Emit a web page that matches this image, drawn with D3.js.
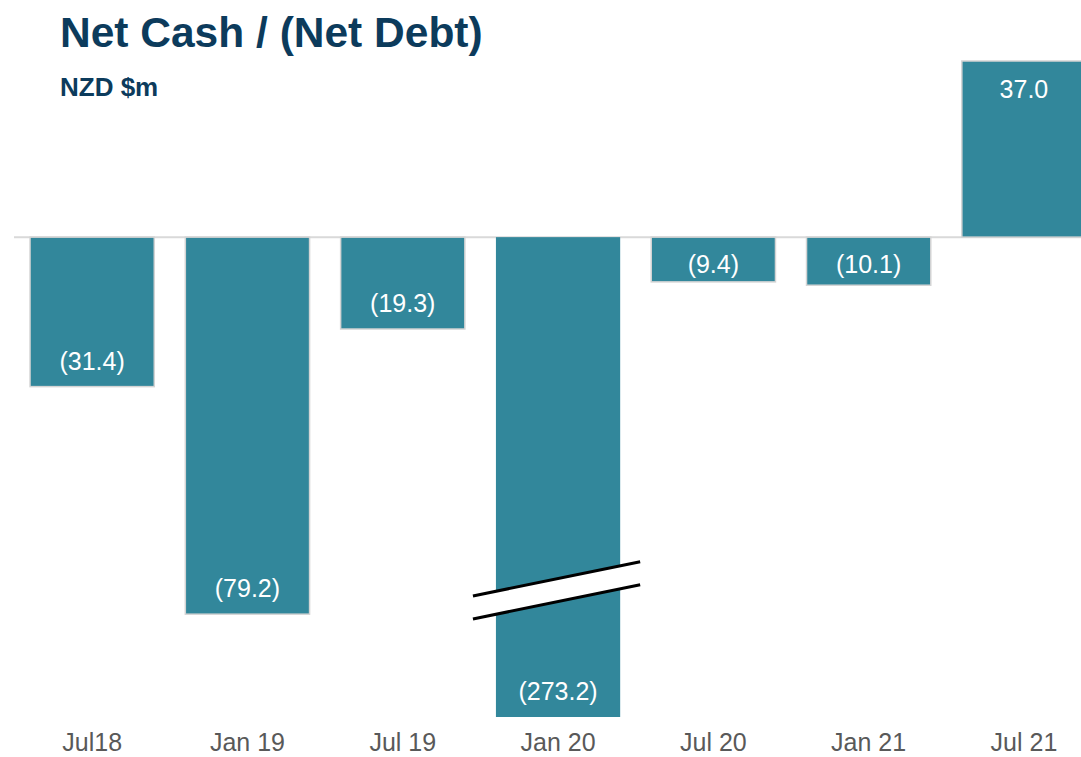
<!DOCTYPE html>
<html>
<head>
<meta charset="utf-8">
<script src="https://cdn.jsdelivr.net/npm/d3@7"></script>
<style>
  body { margin: 0; background: #fff; }
  svg { display: block; font-family: "Liberation Sans", Arial, sans-serif; }
</style>
</head>
<body>
<svg id="chart" width="1081" height="757"></svg>
<script>
// data
var periods = ["Jul18", "Jan 19", "Jul 19", "Jan 20", "Jul 20", "Jan 21", "Jul 21"];
var netCash = [-31.4, -79.2, -19.3, -273.2, -9.4, -10.1, 37.0];
var brokenBar = "Jan 20";
var breakValue = -74.2;

var W = 1081, H = 757;
var barColor = "#32879b";
var navy = "#0c3b5c";

var svg = d3.select("#chart");

var x = d3.scaleBand()
    .domain(periods)
    .range([14.5, 1101.6])
    .paddingInner(0.2)
    .paddingOuter(0.1);

// axis is cut at the bottom, the big Jan 20 bar gets clamped
var y = d3.scaleLinear()
    .domain([-100.8, 37])
    .range([717, 61])
    .clamp(true);

function fmt(v) {
    return v < 0 ? "(" + d3.format(".1f")(-v) + ")" : d3.format(".1f")(v);
}

// title
svg.append("text")
    .attr("x", 60).attr("y", 47)
    .attr("fill", navy)
    .attr("font-size", 42.5).attr("font-weight", "bold")
    .text("Net Cash / (Net Debt)");

svg.append("text")
    .attr("x", 60).attr("y", 96)
    .attr("fill", navy)
    .attr("font-size", 26).attr("font-weight", "bold")
    .text("NZD $m");

var data = periods.map(function (p, i) { return {period: p, value: netCash[i]}; });

// zero line
svg.append("line")
    .attr("x1", 14).attr("x2", W)
    .attr("y1", y(0)).attr("y2", y(0))
    .attr("stroke", "#d9d9d9").attr("stroke-width", 2);

var g = svg.append("g");

g.selectAll("rect.bar")
    .data(data)
    .join("rect")
    .attr("class", "bar")
    .attr("x", function (d) { return x(d.period); })
    .attr("width", x.bandwidth())
    .attr("y", function (d) { return Math.min(y(0), y(d.value)); })
    .attr("height", function (d) { return Math.abs(y(d.value) - y(0)); })
    .attr("fill", barColor)
    .attr("stroke", function (d) { return d.period === brokenBar ? "none" : "#d4d4d4"; })
    .attr("stroke-width", 1.5);

// value labels
g.selectAll("text.val")
    .data(data)
    .join("text")
    .attr("class", "val")
    .attr("x", function (d) { return x(d.period) + x.bandwidth() / 2; })
    .attr("y", function (d) {
        if (d.value >= 0) return y(d.value) + 37;
        return Math.max(y(0) + 36, y(d.value) - 17);
    })
    .attr("text-anchor", "middle")
    .attr("fill", "#fff")
    .attr("font-size", 25)
    .text(function (d) { return fmt(d.value); });

// axis break on the clamped bar
var bx0 = x(brokenBar) - 23, bx1 = x(brokenBar) + x.bandwidth() + 20;
var by = y(breakValue), slope = -0.204, gap = 23;
var yAt = function (xx, off) { return by + off + slope * (xx - (bx0 + bx1) / 2); };
var brk = svg.append("g");
brk.append("polygon")
    .attr("points", [
        [bx0, yAt(bx0, -gap / 2)], [bx1, yAt(bx1, -gap / 2)],
        [bx1, yAt(bx1, gap / 2)], [bx0, yAt(bx0, gap / 2)]
    ].map(function (p) { return p.join(","); }).join(" "))
    .attr("fill", "#fff");
[-gap / 2, gap / 2].forEach(function (off) {
    brk.append("line")
        .attr("x1", bx0).attr("y1", yAt(bx0, off))
        .attr("x2", bx1).attr("y2", yAt(bx1, off))
        .attr("stroke", "#000").attr("stroke-width", 3);
});

// category axis
var xAxis = svg.append("g")
    .attr("transform", "translate(0," + 727 + ")")
    .call(d3.axisBottom(x).tickSize(0).tickPadding(0));
xAxis.select(".domain").remove();
xAxis.selectAll("text")
    .attr("dy", null)
    .attr("y", 24)
    .attr("fill", "#595959")
    .attr("font-size", 25)
    .attr("font-family", "Liberation Sans, Arial, sans-serif");
</script>
</body>
</html>
